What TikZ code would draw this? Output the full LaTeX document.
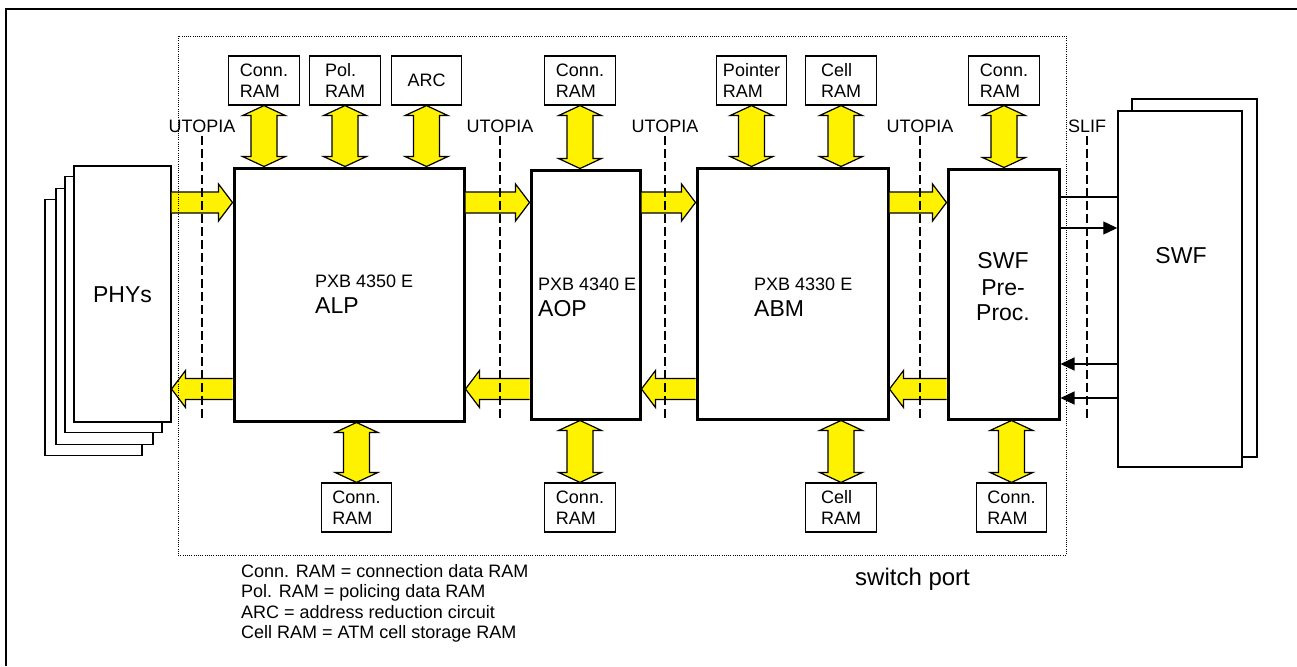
\documentclass[tikz,border=0pt]{standalone}
\usepackage{fontspec}
\setmainfont{Liberation Sans}
\usetikzlibrary{arrows.meta,calc}
% horizontal fat arrow: #1 tail, #2 tip, #3 = 1 (rightward) or -1 (leftward)
\newcommand\yhar[3]{%
 \filldraw[yarr] let \p1=(#1), \p2=(#2) in
 (\x1,{\y1+10.5pt}) -- ({\x2-(#3)*14pt},{\y1+10.5pt}) -- ({\x2-(#3)*14pt},{\y1+18.5pt}) -- (\x2,\y1)
 -- ({\x2-(#3)*14pt},{\y1-18.5pt}) -- ({\x2-(#3)*14pt},{\y1-10.5pt}) -- (\x1,{\y1-10.5pt});}
% vertical fat double arrow: #1 upper tip, #2 lower tip
\newcommand\yvar[2]{%
 \filldraw[yarr] let \p1=(#1), \p2=(#2) in
 (\x1,\y1) -- ({\x1+21.5pt},{\y1-10pt}) -- ({\x1+13pt},{\y1-10pt}) -- ({\x1+13pt},{\y2+10pt})
 -- ({\x1+21.5pt},{\y2+10pt}) -- (\x1,\y2) -- ({\x1-21.5pt},{\y2+10pt}) -- ({\x1-13pt},{\y2+10pt})
 -- ({\x1-13pt},{\y1-10pt}) -- ({\x1-21.5pt},{\y1-10pt}) -- cycle;}
\begin{document}
\begin{tikzpicture}[x=1pt,y=-1pt,
  ram/.style={draw,line width=1.2pt,fill=white,minimum width=70.5pt,minimum height=49pt,inner sep=0pt,align=left,font=\fontsize{18pt}{21pt}\selectfont},
  chip/.style={draw,line width=3pt,fill=white,inner sep=0pt},
  phy/.style={draw,line width=1.1pt,fill=white,minimum width=97pt,minimum height=256pt,inner sep=0pt},
  swfbox/.style={draw,line width=1.5pt,fill=white,minimum width=124pt,minimum height=356pt,inner sep=0pt},
  lbl/.style={inner sep=0pt,font=\fontsize{18pt}{21pt}\selectfont},
  big/.style={inner sep=0pt,font=\fontsize{23pt}{26pt}\selectfont},
  yarr/.style={fill=yellow,draw=black,line width=1.2pt},
  utoline/.style={line width=2pt,dash pattern=on 9pt off 4pt},
  thinline/.style={line width=1.3pt},
  tipped/.style={-{Triangle[length=14pt,width=13pt]}},
  portbox/.style={line width=0.9pt,dash pattern=on 1pt off 1.2pt}
]
\useasboundingbox (0,0) rectangle (1297,666);
% outer frame (only top and left visible)
\draw[line width=2pt] (1297,9) -- (6,9) -- (6,666);

% PHY stack
\node[phy] (phy4) at (93.5,327.5) {};
\node[phy] (phy3) at (104.5,316.5) {};
\node[phy] (phy2) at (113.5,304.5) {};
\node[phy] (phy1) at (122.5,294) {};
\node[big,anchor=base] (phyt) at (122.5,302) {PHYs};

% SWF stack
\node[swfbox,minimum width=125pt,minimum height=358pt] (swf2) at (1194.5,278) {};
\node[swfbox] (swf1) at (1180,289) {};
\node[big,anchor=base] (swft) at (1181,263) {SWF};

% chips
\node[chip,minimum width=230pt,minimum height=253pt] (alp) at (349,294.5) {};
\node[chip,minimum width=109pt,minimum height=249pt] (aop) at (585.5,294.5) {};
\node[chip,minimum width=191pt,minimum height=251pt] (abm) at (792.5,293.5) {};
\node[chip,minimum width=111pt,minimum height=250pt] (swfp) at (1003.5,294) {};

\node[lbl,anchor=base west] (alp1) at (315,287) {PXB 4350 E};
\node[big,anchor=base west] (alp2) at (315,313) {ALP};
\node[lbl,anchor=base west] (aop1) at (538,290) {PXB 4340 E};
\node[big,anchor=base west] (aop2) at (538,316) {AOP};
\node[lbl,anchor=base west] (abm1) at (754,290) {PXB 4330 E};
\node[big,anchor=base west] (abm2) at (754,316) {ABM};
\node[big,anchor=base] (sp1) at (1003,268) {SWF};
\node[big,anchor=base] (sp2) at (1003,295) {Pre-};
\node[big,anchor=base] (sp3) at (1003,320) {Proc.};

% RAM boxes
\node[ram] (ramA1) at (264,80.5) {Conn.\\RAM};
\node[ram] (ramA2) at (345,80.5) {Pol.\\RAM};
\node[ram] (ramA3) at (426.5,80.5) {ARC};
\node[ram] (ramB1) at (580,80.5) {Conn.\\RAM};
\node[ram] (ramC1) at (751.5,80.5) {Pointer\\RAM};
\node[ram] (ramC2) at (841,80.5) {Cell\\RAM};
\node[ram] (ramD1) at (1004,80.5) {Conn.\\RAM};
\node[ram] (ramA4) at (356.5,507.5) {Conn.\\RAM};
\node[ram] (ramB2) at (580,507.5) {Conn.\\RAM};
\node[ram] (ramC3) at (841,507.5) {Cell\\RAM};
\node[ram] (ramD2) at (1011.5,507.5) {Conn.\\RAM};

% vertical double arrows
\yvar{ramA1.south}{ramA1.south |- alp.north}
\yvar{ramA2.south}{ramA2.south |- alp.north}
\yvar{ramA3.south}{ramA3.south |- alp.north}
\yvar{ramB1.south}{ramB1.south |- aop.north}
\yvar{ramC1.south}{ramC1.south |- abm.north}
\yvar{ramC2.south}{ramC2.south |- abm.north}
\yvar{ramD1.south}{ramD1.south |- swfp.north}
\yvar{ramA4.north |- alp.south}{ramA4.north}
\yvar{ramB2.north |- aop.south}{ramB2.north}
\yvar{ramC3.north |- abm.south}{ramC3.north}
\yvar{ramD2.north |- swfp.south}{ramD2.north}

% horizontal fat arrows
\coordinate (rowT) at (0,202.5);
\coordinate (rowB) at (0,389);
\yhar{phy1.east |- rowT}{alp.west |- rowT}{1}
\yhar{alp.east |- rowT}{aop.west |- rowT}{1}
\yhar{aop.east |- rowT}{abm.west |- rowT}{1}
\yhar{abm.east |- rowT}{swfp.west |- rowT}{1}
\yhar{alp.west |- rowB}{phy1.east |- rowB}{-1}
\yhar{aop.west |- rowB}{alp.east |- rowB}{-1}
\yhar{abm.west |- rowB}{aop.east |- rowB}{-1}
\yhar{swfp.west |- rowB}{abm.east |- rowB}{-1}

% SLIF lines
\coordinate (s1) at (0,197);
\coordinate (s2) at (0,228);
\coordinate (s3) at (0,364);
\coordinate (s4) at (0,398);
\draw[thinline] (swfp.east |- s1) -- (swf1.west |- s1);
\draw[thinline,tipped] (swfp.east |- s2) -- (swf1.west |- s2);
\draw[thinline,tipped] (swf1.west |- s3) -- (swfp.east |- s3);
\draw[thinline,tipped] (swf1.west |- s4) -- (swfp.east |- s4);

% interface labels and dashed lines
\coordinate (lbot) at (0,418);
\node[lbl,anchor=base] (u1) at (202,132) {UTOPIA};
\node[lbl,anchor=base] (u2) at (500,132) {UTOPIA};
\node[lbl,anchor=base] (u3) at (665,132) {UTOPIA};
\node[lbl,anchor=base] (u4) at (920,132) {UTOPIA};
\node[lbl,anchor=base] (sl) at (1087,132) {SLIF};
\foreach \u in {u1,u2,u3,u4,sl}
  \draw[utoline] ($(\u.south)+(0,4)$) -- (\u.south |- lbot);

% switch port dotted box
\draw[portbox] (178,36) rectangle (1066,555);
\node[inner sep=0pt,font=\fontsize{24pt}{28pt}\selectfont,anchor=base west] (swport) at (855,585) {switch port};

% legend
\node[inner sep=0pt,align=left,anchor=north west,font=\fontsize{18pt}{20.5pt}\selectfont] (legend) at (241,563.8)
 {Conn. RAM = connection data RAM\\Pol. RAM = policing data RAM\\ARC = address reduction circuit\\Cell RAM = ATM cell storage RAM};
\end{tikzpicture}
\end{document}
